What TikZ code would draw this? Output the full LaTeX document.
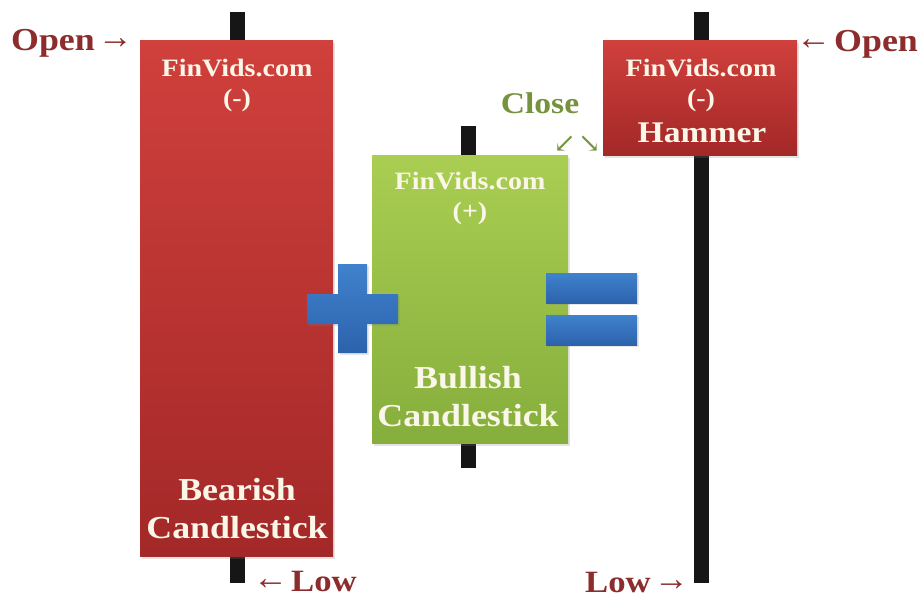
\documentclass[tikz,border=0pt]{standalone}
\usepackage{fontspec}
\setmainfont[FakeStretch=1.12]{Liberation Serif}
\newfontfamily\arr{DejaVu Serif}
\newfontfamily\thinarr{Liberation Serif}
\usetikzlibrary{shadows}
\definecolor{redtop}{RGB}{208,64,60}
\definecolor{redbot}{RGB}{163,40,40}
\definecolor{grntop}{RGB}{170,206,82}
\definecolor{grnbot}{RGB}{134,174,60}
\definecolor{blutop}{RGB}{64,130,205}
\definecolor{blubot}{RGB}{44,98,172}
\definecolor{lblred}{RGB}{140,44,44}
\definecolor{lblgrn}{RGB}{118,146,60}
\definecolor{wickc}{RGB}{22,22,22}
\definecolor{txtw}{RGB}{250,246,232}
\newcommand{\ra}{\raisebox{1.5pt}{\thinarr\mdseries\fontsize{35}{35}\selectfont →}}
\newcommand{\la}{\raisebox{1.5pt}{\thinarr\mdseries\fontsize{35}{35}\selectfont ←}}
\begin{document}
\begin{tikzpicture}[x=1pt,y=-1pt,
  wick/.style={draw=wickc,line width=15pt},
  bodybox/.style={rectangle,inner sep=0pt,anchor=north west,
    drop shadow={opacity=0.22,shadow xshift=2pt,shadow yshift=-3pt}},
  redbody/.style={bodybox,top color=redtop,bottom color=redbot},
  grnbody/.style={bodybox,top color=grntop,bottom color=grnbot},
  smalltxt/.style={text=txtw,font=\bfseries\fontsize{25}{28}\selectfont,inner sep=0pt},
  bigtxt/.style={text=txtw,font=\bfseries\fontsize{32}{36}\selectfont,inner sep=0pt},
  redlbl/.style={text=lblred,font=\bfseries\fontsize{32}{34}\selectfont,inner sep=0pt},
  grnlbl/.style={text=lblgrn,font=\bfseries\fontsize{30}{34}\selectfont,inner sep=0pt}]
\useasboundingbox (0,0) rectangle (920,599);
% wick end points
\coordinate (w1t) at (237,12);  \coordinate (w1b) at (237,583);
\coordinate (w2t) at (468,126); \coordinate (w2b) at (468,468);
\coordinate (w3t) at (701,12);  \coordinate (w3b) at (701,583);
\draw[wick] (w1t) -- (w1b);
\draw[wick] (w2t) -- (w2b);
\draw[wick] (w3t) -- (w3b);
% bodies
\node[redbody,minimum width=193pt,minimum height=516pt] (bear) at (140,40) {};
\node[grnbody,minimum width=196pt,minimum height=288pt] (bull) at (372,155) {};
\node[redbody,minimum width=194pt,minimum height=115pt] (hammer) at (603,40) {};
% texts in bodies
\node[smalltxt] (bear1) at (237,68) {FinVids.com};
\node[smalltxt] (bear2) at (237,100) {(-)};
\node[bigtxt] (bear3) at (237,490) {Bearish};
\node[bigtxt] (bear4) at (237,528) {Candlestick};
\node[smalltxt] (bull1) at (470,181) {FinVids.com};
\node[smalltxt] (bull2) at (470,213) {(+)};
\node[bigtxt] (bull3) at (468,378) {Bullish};
\node[bigtxt] (bull4) at (468,416) {Candlestick};
\node[smalltxt] (ham1) at (701,68) {FinVids.com};
\node[smalltxt] (ham2) at (701,100) {(-)};
\node[smalltxt,font=\bfseries\fontsize{30}{34}\selectfont] (ham3) at (702,133) {Hammer};
% plus and equals
\shade[top color=blutop,bottom color=blubot,drop shadow={opacity=0.2,shadow xshift=2pt,shadow yshift=-2pt}]
  (338,264) -- (367,264) -- (367,294) -- (398,294) -- (398,324) -- (367,324)
  -- (367,353) -- (338,353) -- (338,324) -- (307,324) -- (307,294) -- (338,294) -- cycle;
\shade[top color=blutop,bottom color=blubot,drop shadow={opacity=0.2,shadow xshift=2pt,shadow yshift=-2pt}]
  (546,273) rectangle (637,303);
\shade[top color=blutop,bottom color=blubot,drop shadow={opacity=0.2,shadow xshift=2pt,shadow yshift=-2pt}]
  (546,315) rectangle (637,345);
% outside labels
\node[redlbl,anchor=east] (open1) at (133,43) {Open\hspace{3pt}\ra};
\node[redlbl,anchor=west] (open2) at (796,44) {\la\hspace{3pt}Open};
\node[redlbl,font=\bfseries\fontsize{31}{34}\selectfont,anchor=west] (low1) at (253,581) {\la\hspace{3pt}Low};
\node[redlbl,font=\bfseries\fontsize{31}{34}\selectfont,anchor=east] (low2) at (689,582) {Low\hspace{3pt}\ra};
\node[grnlbl] (close) at (540,103) {Close};
\node[text=lblgrn,font=\arr\fontsize{27}{28}\selectfont,inner sep=0pt] (closearr) at (577,144) {↙\hspace{2pt}↘};
\end{tikzpicture}
\end{document}
